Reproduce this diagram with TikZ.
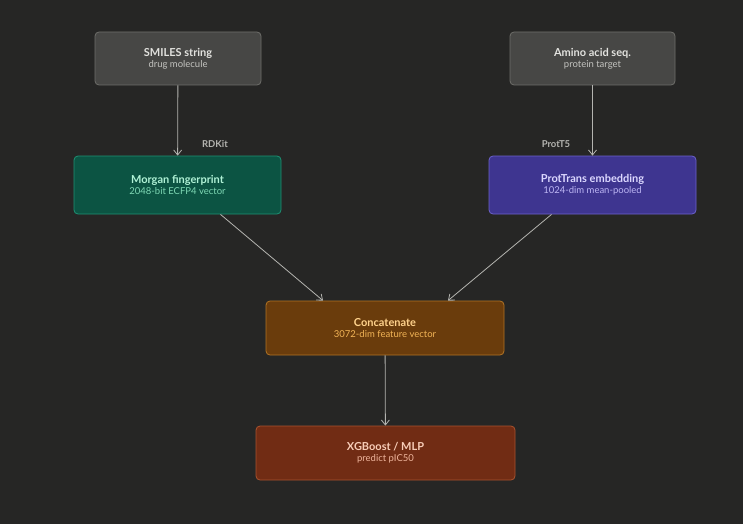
\documentclass[tikz,border=0pt]{standalone}
\usepackage{fontspec}
\setmainfont{Lato}
\usetikzlibrary{positioning,calc,arrows.meta}
\definecolor{bg}{HTML}{262625}
\definecolor{grayfill}{HTML}{474745}
\definecolor{grayline}{HTML}{6E6E6A}
\definecolor{tealfill}{HTML}{0C5443}
\definecolor{tealline}{HTML}{1E9274}
\definecolor{purpfill}{HTML}{3E3590}
\definecolor{purpline}{HTML}{6C62CC}
\definecolor{ambfill}{HTML}{6A3C0C}
\definecolor{ambline}{HTML}{B27424}
\definecolor{redfill}{HTML}{712C14}
\definecolor{redline}{HTML}{A9532E}
\definecolor{arrowc}{HTML}{B4B4B0}

\begin{document}
\begin{tikzpicture}[
    x=1pt, y=-1pt,
    box/.style={draw, rounded corners=4pt, line width=0.8pt, minimum height=53pt, align=center, inner sep=2pt},
    flow/.style={draw=arrowc, line width=0.8pt, -{Straight Barb[length=5pt,width=8pt]}},
    tag/.style={font=\fontsize{9.5}{11}\selectfont\bfseries, text=arrowc}
]
\fill[bg] (0,0) rectangle (743,524);
\useasboundingbox (0,0) rectangle (743,524);

% Define node positions
\node[box, fill=grayfill, draw=grayline, minimum width=166pt] (smiles) at (178,58.5)
    {{\fontsize{11}{13}\selectfont\bfseries\color[HTML]{E2E2DE}SMILES string}\\[-1pt]{\fontsize{9.5}{11}\selectfont\color[HTML]{C4C4C0}drug molecule}};
\node[box, fill=grayfill, draw=grayline, minimum width=165pt] (amino) at (592.5,58.5)
    {{\fontsize{11}{13}\selectfont\bfseries\color[HTML]{E2E2DE}Amino acid seq.}\\[-1pt]{\fontsize{9.5}{11}\selectfont\color[HTML]{C4C4C0}protein target}};
\node[box, fill=tealfill, draw=tealline, minimum width=207pt, minimum height=58pt] (morgan) at (177.5,185)
    {{\fontsize{11}{13}\selectfont\bfseries\color[HTML]{B0F2D6}Morgan fingerprint}\\[-1pt]{\fontsize{9.5}{11}\selectfont\color[HTML]{7ED8B4}2048-bit ECFP4 vector}};
\node[box, fill=purpfill, draw=purpline, minimum width=207pt, minimum height=58pt] (prot) at (592.5,185)
    {{\fontsize{11}{13}\selectfont\bfseries\color[HTML]{DCD8FF}ProtTrans embedding}\\[-1pt]{\fontsize{9.5}{11}\selectfont\color[HTML]{BDB6F4}1024-dim mean-pooled}};
\node[box, fill=ambfill, draw=ambline, minimum width=238pt, minimum height=54pt] (concat) at (385,328)
    {{\fontsize{11}{13}\selectfont\bfseries\color[HTML]{FFD28C}Concatenate}\\[-1pt]{\fontsize{9.5}{11}\selectfont\color[HTML]{F2B456}3072-dim feature vector}};
\node[box, fill=redfill, draw=redline, minimum width=259pt, minimum height=54pt] (model) at (385.5,453)
    {{\fontsize{11}{13}\selectfont\bfseries\color[HTML]{F8CDB8}XGBoost / MLP}\\[-1pt]{\fontsize{9.5}{11}\selectfont\color[HTML]{EFB59C}predict pIC50}};

% Tool labels
\node[tag] (rdkit) at (215,144) {RDKit};
\node[tag] (prott5) at (556,144) {ProtT5};

% Connectors
\draw[flow] (smiles) -- (morgan);
\draw[flow] (amino) -- (prot);
\draw[flow] ($(morgan.south)+(43,0)$) -- ($(concat.north)+(-62,0)$);
\draw[flow] ($(prot.south)+(-41,0)$) -- ($(concat.north)+(63,0)$);
\draw[flow] (concat) -- (model);

\end{tikzpicture}
\end{document}
